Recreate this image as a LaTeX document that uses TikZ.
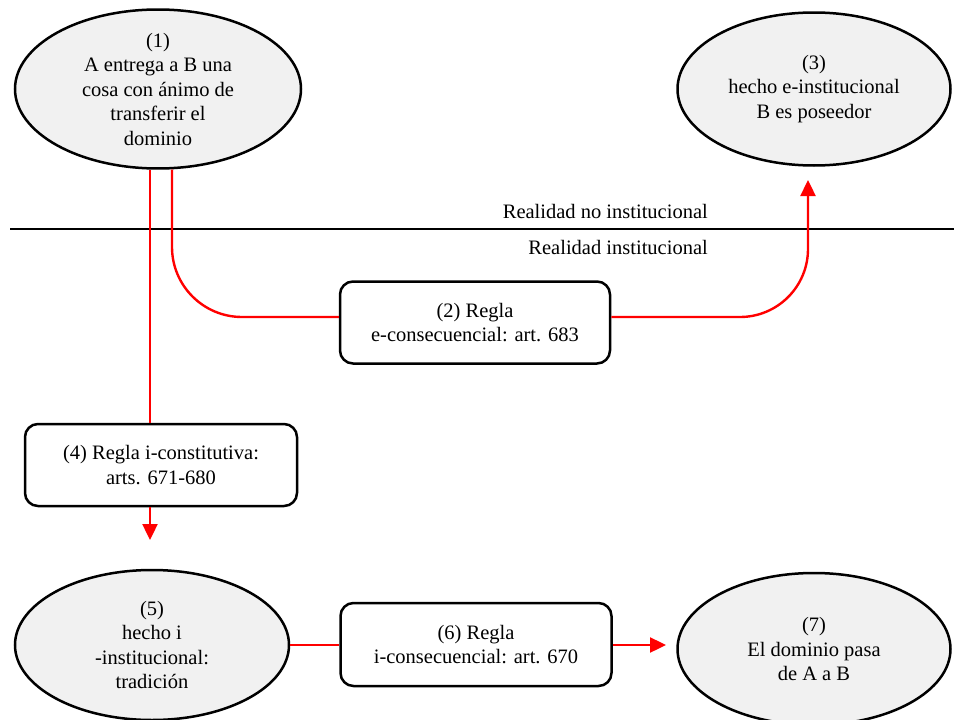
\documentclass[tikz,border=0pt]{standalone}
\usepackage{fontspec}
\setmainfont{Liberation Serif}
\usetikzlibrary{shapes.geometric,arrows.meta}
\definecolor{ellfill}{HTML}{F1F1F1}
\tikzset{
  txt/.style={font=\fontsize{20.5}{24.5}\selectfont, align=center},
  ell/.style={txt, ellipse, draw=black, line width=2.5pt, fill=ellfill, inner sep=0pt},
  rulebox/.style={txt, rectangle, rounded corners=13pt, draw=black, line width=2.5pt, fill=white, minimum width=270pt, minimum height=82pt, inner sep=0pt},
  conn/.style={red, line width=2.4pt},
  tip/.style={-{Triangle[width=15pt,length=16pt]}},
}
\begin{document}
\begin{tikzpicture}[x=1pt,y=-1pt]
\useasboundingbox (0,0) rectangle (954,720);

% ellipses
\node[ell, minimum width=286pt, minimum height=152pt] (e1) at (158,89) {(1)\\A entrega a B una\\cosa con ánimo de\\transferir el\\dominio};
\node[ell, minimum width=273pt, minimum height=153pt] (e3) at (814,89) {(3)\\hecho e-institucional\\B es poseedor};
\node[ell, minimum width=274pt, minimum height=150pt] (e5) at (152,645) {(5)\\hecho i\\-institucional:\\tradición};
\node[ell, minimum width=273pt, minimum height=152pt] (e7) at (814,649) {(7)\\El dominio pasa\\de A a B};

% rule boxes
\node[rulebox] (b2) at (475,322.5) {(2) Regla\\e-consecuencial: art. 683};
\node[rulebox, minimum width=272pt] (b4) at (161,465) {(4) Regla i-constitutiva:\\arts. 671-680};
\node[rulebox, minimum width=271pt, minimum height=83pt] (b6) at (476,644.5) {(6) Regla\\i-consecuencial: art. 670};

% separator line and labels
\coordinate (sepL) at (10,229);
\coordinate (sepR) at (954,229);
\draw[line width=2.5pt] (sepL) -- (sepR);
\node[txt, anchor=east, inner sep=0pt] (lno) at (708,211) {Realidad no institucional};
\node[txt, anchor=east, inner sep=0pt] (lsi) at (708,247) {Realidad institucional};

% connectors
\coordinate (a3) at (808,180);
\coordinate (a5) at (150,540);
\coordinate (a7) at (666,645);

\draw[conn] ([xshift=-8pt]e1.south) -- ([xshift=-11pt]b4.north);
\draw[conn, tip] ([xshift=-11pt]b4.south) -- (a5);
\draw[conn, rounded corners=70pt] ([xshift=14pt]e1.south) |- ([yshift=5.5pt]b2.west);
\draw[conn, tip, rounded corners=68pt] ([yshift=5.5pt]b2.east) -| (a3);
\draw[conn] (e5.east) -- (e5.east -| b6.west);
\draw[conn, tip] (b6.east |- a7) -- (a7);
\end{tikzpicture}
\end{document}
